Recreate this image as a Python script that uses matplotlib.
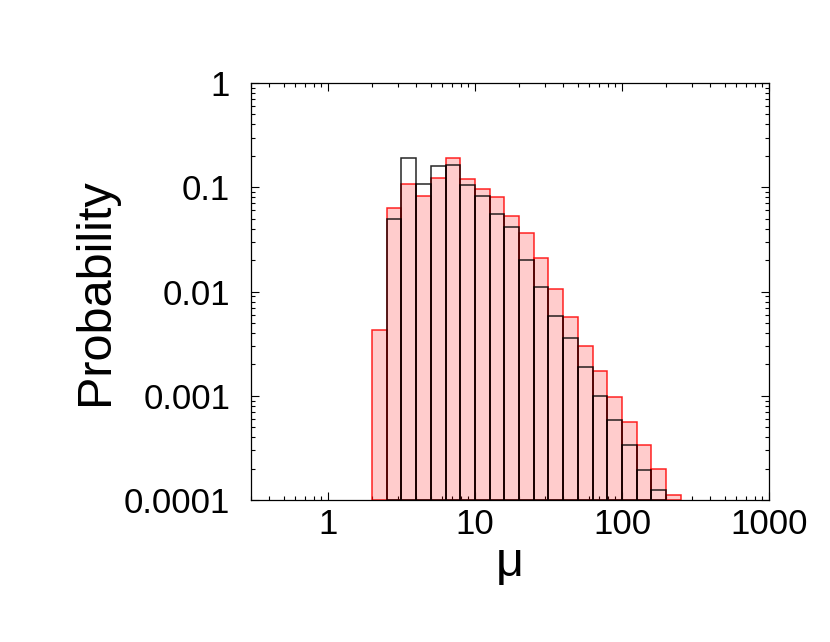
import numpy as np
import matplotlib
matplotlib.use("Agg")
import matplotlib.pyplot as plt
from matplotlib.ticker import LogLocator, FixedLocator, NullFormatter

plt.rcParams['font.family'] = ['Liberation Sans', 'DejaVu Sans']

# bin edges: log10 from 0.3 to 2.4 in steps of 0.1
log_edges = [0.3, 0.4, 0.5, 0.6, 0.7, 0.8, 0.9, 1.0, 1.1, 1.2, 1.3,
             1.4, 1.5, 1.6, 1.7, 1.8, 1.9, 2.0, 2.1, 2.2, 2.3, 2.4]
red_prob = [0.00426, 0.0638, 0.107, 0.0826, 0.123, 0.190, 0.121, 0.0971,
            0.0814, 0.0531, 0.0362, 0.0210, 0.0106, 0.00568, 0.00297,
            0.00171, 0.000964, 0.000555, 0.000339, 0.000197, 0.000112]
black_prob = [0.0, 0.0493, 0.190, 0.107, 0.160, 0.165, 0.106, 0.0826,
              0.0551, 0.0414, 0.0200, 0.0111, 0.00580, 0.00357, 0.00187,
              0.000986, 0.000589, 0.000339, 0.000194, 0.000124, 0.0]
x_ticks = [1, 10, 100, 1000]
x_ticklabels = ['1', '10', '100', '1000']
y_ticks = [1e-4, 1e-3, 1e-2, 1e-1, 1]
y_ticklabels = ['0.0001', '0.001', '0.01', '0.1', '1']

edges = 10 ** np.array(log_edges)
left = edges[:-1]
widths = np.diff(edges)
ymin = 1e-4

fig = plt.figure(figsize=(8.30, 6.42), dpi=100)
ax = fig.add_axes([0.3024, 0.2212, 0.6241, 0.6495])

rp = np.array(red_prob)
ax.bar(left, rp - ymin, width=widths, bottom=ymin, align='edge',
       facecolor=(1, 0, 0, 0.2), edgecolor=(1, 0, 0, 0.85), linewidth=1.1, zorder=2)
bp = np.array(black_prob)
mask = bp > 0
ax.bar(left[mask], bp[mask] - ymin, width=widths[mask], bottom=ymin, align='edge',
       fill=False, edgecolor=(0, 0, 0, 0.85), linewidth=1.1, zorder=3)

ax.set_xscale('log')
ax.set_yscale('log')
ax.set_xlim(0.3, 1000)
ax.set_ylim(1e-4, 1)

ax.xaxis.set_major_locator(FixedLocator(x_ticks))
ax.set_xticklabels(x_ticklabels)
ax.yaxis.set_major_locator(FixedLocator(y_ticks))
ax.set_yticklabels(y_ticklabels)
ax.xaxis.set_minor_locator(LogLocator(base=10, subs=np.arange(2, 10), numticks=20))
ax.yaxis.set_minor_locator(LogLocator(base=10, subs=np.arange(2, 10), numticks=20))
ax.xaxis.set_minor_formatter(NullFormatter())
ax.yaxis.set_minor_formatter(NullFormatter())

ax.tick_params(which='both', direction='in', top=True, right=True, width=0.8)
ax.tick_params(which='major', length=6, labelsize=25)
ax.tick_params(which='minor', length=3)
ax.tick_params(axis='y', which='major', pad=15)
ax.tick_params(axis='x', which='major', pad=6)
for s in ax.spines.values():
    s.set_linewidth(0.9)

ax.set_ylabel('Probability', fontsize=35, labelpad=4)
ax.set_xlabel('μ', fontsize=35, labelpad=0)

fig.savefig('out.png', dpi=100)
